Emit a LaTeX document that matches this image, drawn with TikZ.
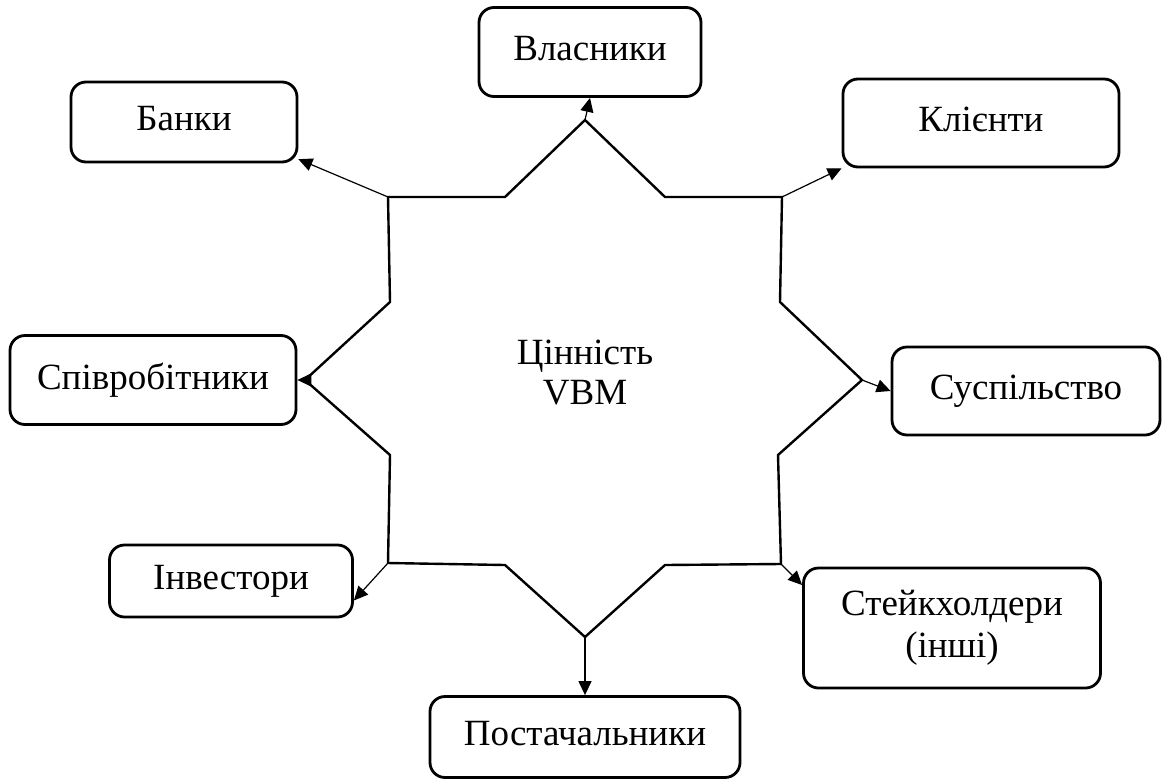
\documentclass[tikz,border=0pt]{standalone}
\usepackage{fontspec}
\setmainfont{Liberation Serif}
\usetikzlibrary{arrows.meta}
\tikzset{
  nd_box/.style={rectangle,rounded corners=7.5pt,draw=black,line width=1.4pt,align=center,text depth=4pt,font=\fontsize{18.5}{21}\selectfont},
  nd_val/.style={align=center,font=\fontsize{18.5}{20}\selectfont},
  star_line/.style={line width=1.2pt,line join=miter},
  arr/.style={-{Triangle[length=7pt,width=6.5pt]},line width=0.6pt},
}
\begin{document}
\begin{tikzpicture}[x=0.5pt,y=-0.5pt]
\useasboundingbox (0,0) rectangle (1162,782);
% star
\coordinate (sT)  at (585,120);
\coordinate (sTR) at (782,197);
\coordinate (sR)  at (862,380);
\coordinate (sBR) at (781,564);
\coordinate (sB)  at (585,637);
\coordinate (sBL) at (388,563);
\coordinate (sL)  at (305,380);
\coordinate (sTL) at (388,197);
\draw[star_line] (sT) -- (665,197) -- (sTR) -- (780,302) -- (sR) -- (778,455) -- (sBR)
  -- (665,565) -- (sB) -- (505,565) -- (sBL) -- (390,455) -- (sL) -- (390,302)
  -- (sTL) -- (505,197) -- cycle;
\node[nd_val] at (585,373)(VAL){Цінність\\VBM};
% boxes
\node[nd_box,minimum width=113pt,minimum height=40pt]   at (184,122)(BK){Банки};
\node[nd_box,minimum width=111pt,minimum height=44.5pt] at (590,52)(VL){Власники};
\node[nd_box,minimum width=138pt,minimum height=44pt]   at (981,123)(KL){Клієнти};
\node[nd_box,minimum width=143pt,minimum height=44.5pt] at (153,380)(SP){Співробітники};
\node[nd_box,minimum width=134pt,minimum height=44pt]   at (1026,391)(SU){Суспільство};
\node[nd_box,minimum width=121.5pt,minimum height=36pt] at (231,581)(IN){Інвестори};
\node[nd_box,minimum width=148.5pt,minimum height=60pt] at (952,628)(ST){Стейкхолдери\\(інші)};
\node[nd_box,minimum width=155pt,minimum height=40.5pt] at (585,737)(PO){Постачальники};
% arrows
\foreach \a/\b in {sTL/BK.-18,sT/VL.south,sTR/KL.-162,sL/SP.east,sR/SU.west,sBL/IN.-9,sBR/ST.164,sB/PO.north}{\draw[arr](\a)--(\b);}
\end{tikzpicture}
\end{document}
